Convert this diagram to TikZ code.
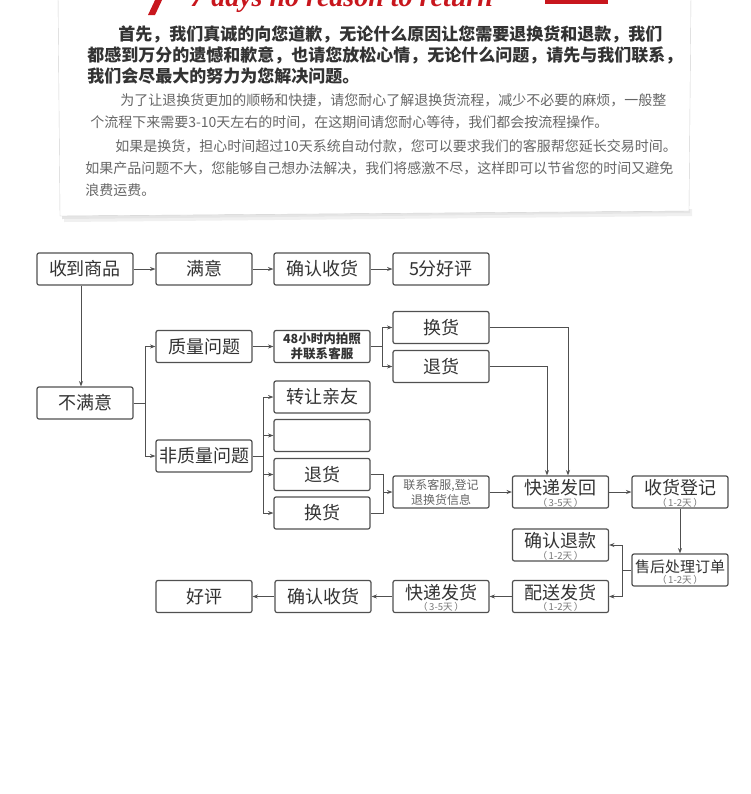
\documentclass[tikz,border=0pt]{standalone}
\usepackage{fontspec}
\setmainfont{Noto Sans CJK SC}
\newfontfamily\titlefont{Liberation Serif}
\usetikzlibrary{calc,arrows.meta}
\definecolor{boxline}{HTML}{505050}
\definecolor{txt}{HTML}{333333}
\definecolor{subtxt}{HTML}{777777}
\definecolor{para}{HTML}{666666}
\definecolor{titlered}{HTML}{C8161D}
\begin{document}
\begin{tikzpicture}[x=0.75pt,y=-0.75pt,
  flowbox/.style={draw=boxline, line width=0.9pt, rounded corners=1.5pt, minimum width=72pt, minimum height=24pt, inner sep=0pt, fill=white, text=txt, font=\fontsize{13.5}{15}\selectfont},
  mtext/.style={inner sep=0pt, text=txt, font=\fontsize{13.5}{15}\selectfont},
  conn/.style={draw=boxline, line width=0.6pt},
  arr/.style={conn, -{Stealth[length=4pt,width=3pt]}},
  subt/.style={inner sep=0pt, text=subtxt, font=\fontsize{7.2}{8}\selectfont},
  paraB/.style={anchor=west, inner sep=0pt, text=txt, font=\fontsize{12.75}{14}\selectfont\bfseries},
  paraR/.style={anchor=west, inner sep=0pt, text=para, font=\fontsize{10.5}{12}\selectfont},
]
\useasboundingbox (0,0) rectangle (751,794);
\fill[white] (0,0) rectangle (751,794);
% paper card
\fill[gray!12] (64,214) -- (692,209) -- (692,216) -- (64,222) -- cycle;
\fill[gray!20] (62,214) -- (690,209) -- (690,213) -- (62,219) -- cycle;
\filldraw[fill=white, draw=gray!35, line width=0.3pt] (58,-5) -- (691,-5) -- (689,211) -- (60,216) -- cycle;
% title (cut off at the top)
\fill[titlered] (148,15) -- (155,15) -- (163,-2) -- (156,-2) -- cycle;
\fill[titlered] (545,-2) rectangle (608,4);
\node[anchor=base west, inner sep=0pt, text=titlered, font=\titlefont\bfseries\itshape\fontsize{21}{22}\selectfont] (title) at (190,6) {7 days no reason to return};
% paragraphs
\node[paraB] (l1) at (118,34) {首先，我们真诚的向您道歉，无论什么原因让您需要退换货和退款，我们};
\node[paraB] (l2) at (87,55) {都感到万分的遗憾和歉意，也请您放松心情，无论什么问题，请先与我们联系，};
\node[paraB] (l3) at (87,76) {我们会尽最大的努力为您解决问题。};
\node[paraR] (l4) at (120,100) {为了让退换货更加的顺畅和快捷，请您耐心了解退换货流程，减少不必要的麻烦，一般整};
\node[paraR] (l5) at (90,122) {个流程下来需要3-10天左右的时间，在这期间请您耐心等待，我们都会按流程操作。};
\node[paraR] (l6) at (115,146) {如果是换货，担心时间超过10天系统自动付款，您可以要求我们的客服帮您延长交易时间。};
\node[paraR] (l7) at (85,168) {如果产品问题不大，您能够自己想办法解决，我们将感激不尽，这样即可以节省您的时间又避免};
\node[paraR] (l8) at (85,190) {浪费运费。};
% boxes
\node[flowbox] (sd) at (85,269) {收到商品};
\node[flowbox] (my) at (204,269) {满意};
\node[flowbox] (qr1) at (322,269) {确认收货};
\node[flowbox] (hp5) at (441,269) {5分好评};
\node[flowbox] (bmy) at (85,403) {不满意};
\node[flowbox] (zl) at (204,346.5) {质量问题};
\node[flowbox, font=\fontsize{9.4}{11.25}\selectfont\bfseries, align=center] (h48) at (322,346.5) {48小时内拍照\\并联系客服};
\node[flowbox] (hh1) at (441,327.5) {换货};
\node[flowbox] (th1) at (441,366.5) {退货};
\node[flowbox] (fzl) at (204,456) {非质量问题};
\node[flowbox] (zr) at (322,397) {转让亲友};
\node[flowbox] (kong) at (322,435.5) {};
\node[flowbox] (th2) at (322,474.5) {退货};
\node[flowbox] (hh2) at (322,513) {换货};
\node[flowbox, text=para, font=\fontsize{9}{11.25}\selectfont, align=center] (lx) at (441,492) {联系客服,登记\\退换货信息};
\node[flowbox] (kd) at (560.5,492) {};
\node[mtext] (kdt) at ($(kd.center)+(0,-4)$) {快递发回};
\node[subt] (kds) at ($(kd.south)+(0,-6)$) {（\,3-5天\,）};
\node[flowbox] (shdj) at (680,492) {};
\node[mtext] (shdjt) at ($(shdj.center)+(0,-4)$) {收货登记};
\node[subt] (shdjs) at ($(shdj.south)+(0,-6)$) {（\,1-2天\,）};
\node[flowbox] (qrtk) at (560.5,545) {};
\node[mtext] (qrtkt) at ($(qrtk.center)+(0,-4)$) {确认退款};
\node[subt] (qrtks) at ($(qrtk.south)+(0,-6)$) {（\,1-2天\,）};
\node[flowbox] (shcl) at (680,570) {};
\node[mtext, font=\fontsize{11.25}{13}\selectfont] (shclt) at ($(shcl.center)+(0,-3.5)$) {售后处理订单};
\node[subt] (shcls) at ($(shcl.south)+(0,-6.5)$) {（\,1-2天\,）};
\node[flowbox] (ps) at (560.5,596.5) {};
\node[mtext] (pst) at ($(ps.center)+(0,-4)$) {配送发货};
\node[subt] (pss) at ($(ps.south)+(0,-6)$) {（\,1-2天\,）};
\node[flowbox] (kdfh) at (441,596.5) {};
\node[mtext] (kdfht) at ($(kdfh.center)+(0,-4)$) {快递发货};
\node[subt] (kdfhs) at ($(kdfh.south)+(0,-6)$) {（\,3-5天\,）};
\node[flowbox] (qr2) at (323,596.5) {确认收货};
\node[flowbox] (hp) at (204,596.5) {好评};
% connectors
\draw[arr] (sd) -- (my);
\draw[arr] (my) -- (qr1);
\draw[arr] (qr1) -- (hp5);
\draw[arr] ([xshift=-3pt]sd.south) -- ([xshift=-3pt]bmy.north);
\coordinate (b1) at (145,403);
\draw[conn] (bmy.east) -- (b1);
\draw[arr] (b1) |- (zl.west);
\draw[arr] (b1) |- (fzl.west);
\draw[arr] (zl) -- (h48);
\coordinate (b2) at (382,346.5);
\draw[conn] (h48.east) -- (b2);
\draw[arr] (b2) |- (hh1.west);
\draw[arr] (b2) |- (th1.west);
\coordinate (b3) at (263,456);
\draw[conn] (fzl.east) -- (b3);
\draw[arr] (b3) |- (zr.west);
\draw[arr] (b3) |- (kong.west);
\draw[arr] (b3) |- (th2.west);
\draw[arr] (b3) |- (hh2.west);
\coordinate (b4) at (383,492);
\draw[conn] (th2.east) -| (b4);
\draw[conn] (hh2.east) -| (b4);
\draw[arr] (b4) -- (lx.west);
\draw[arr] (lx) -- (kd);
\draw[arr] (kd) -- (shdj);
\draw[arr] (hh1.east) -| ($(kd.north)+(7.5,0)$);
\draw[arr] (th1.east) -| ($(kd.north)+(-13.5,0)$);
\draw[arr] (shdj) -- (shcl);
\coordinate (b5) at (622,570);
\draw[conn] (shcl.west) -- (b5);
\draw[arr] (b5) |- (qrtk.east);
\draw[arr] (b5) |- (ps.east);
\draw[arr] (ps) -- (kdfh);
\draw[arr] (kdfh) -- (qr2);
\draw[arr] (qr2) -- (hp);
\end{tikzpicture}
\end{document}
